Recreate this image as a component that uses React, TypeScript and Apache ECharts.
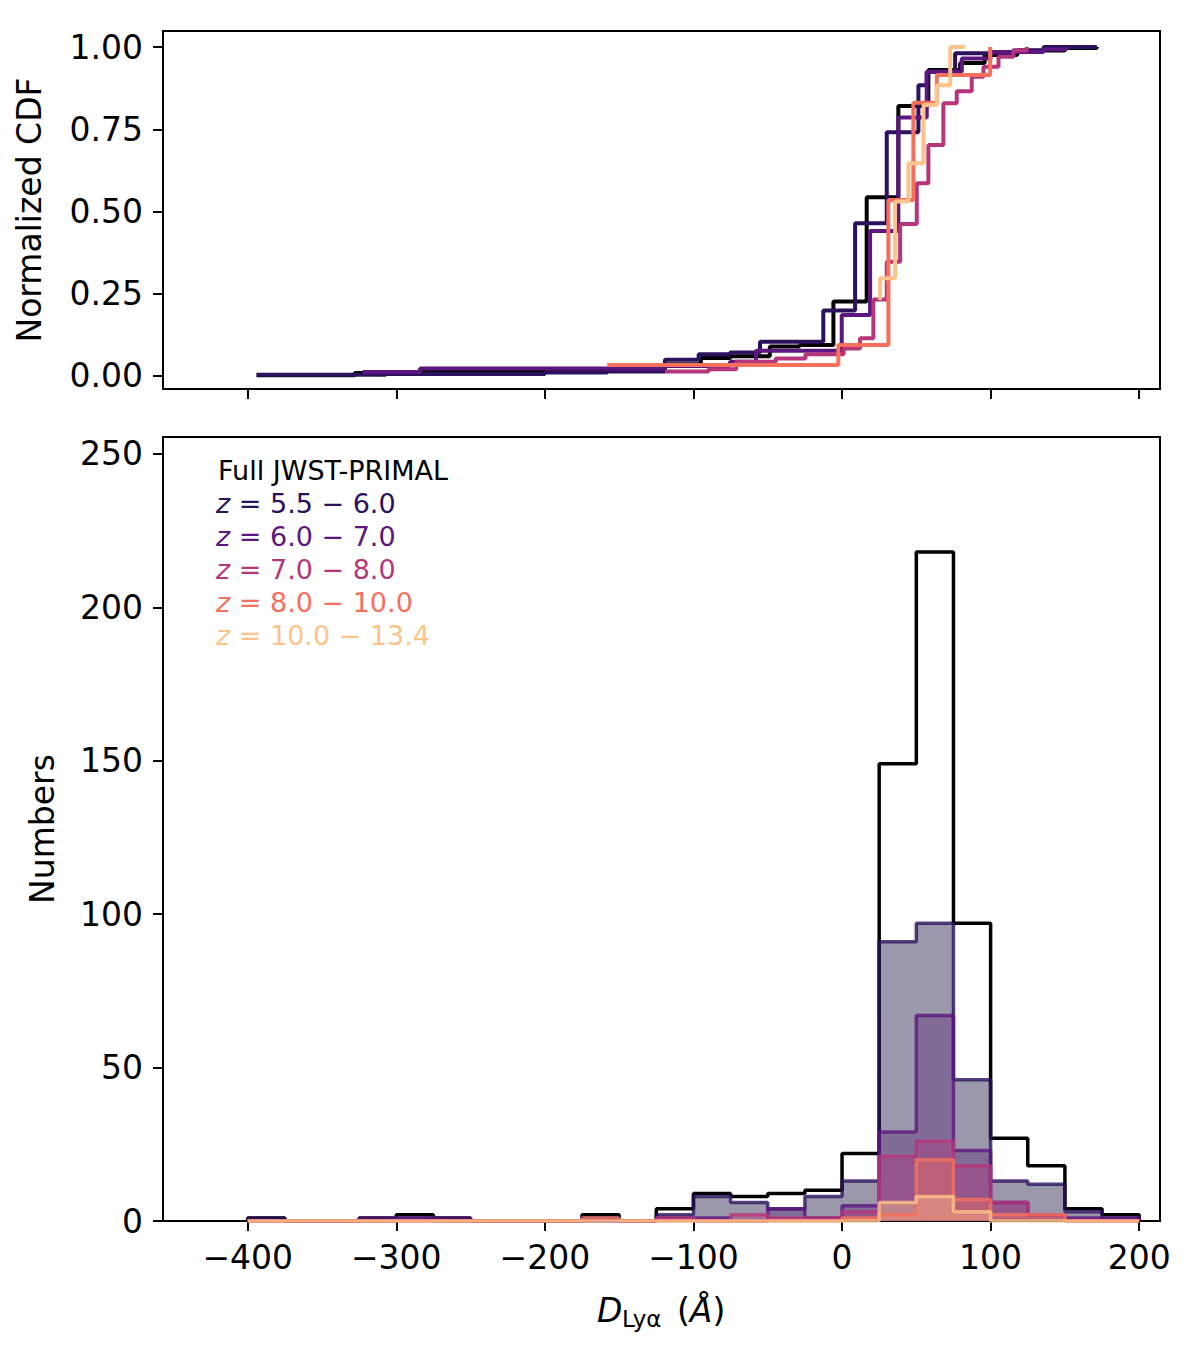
import React, { useEffect, useRef } from "react";
import * as echarts from "echarts";

const FONT = '"DejaVu Sans", sans-serif';

// Histogram bin edges (Å)
const binEdges = [
  -400, -375, -350, -325, -300, -275, -250, -225, -200, -175, -150, -125, -100,
  -75, -50, -25, 0, 25, 50, 75, 100, 125, 150, 175, 200,
];

// Counts per bin
const histFull = [1, 0, 0, 1, 2, 1, 0, 0, 0, 2, 0, 4, 9, 8, 9, 10, 22, 149, 218, 97, 27, 18, 4, 2];
const hist55 = [1, 0, 0, 0, 1, 0, 0, 0, 0, 1, 0, 2, 8, 6, 4, 8, 13, 91, 97, 46, 13, 12, 3, 1];
const hist60 = [0, 0, 0, 1, 1, 1, 0, 0, 0, 0, 0, 1, 1, 0, 4, 1, 5, 29, 67, 23, 6, 2, 1, 1];
const hist70 = [0, 0, 0, 0, 0, 0, 0, 0, 0, 0, 0, 1, 0, 2, 1, 1, 3, 21, 26, 18, 6, 2, 0, 0];
const hist80 = [0, 0, 0, 0, 0, 0, 0, 0, 0, 1, 0, 0, 0, 0, 0, 0, 1, 2, 20, 7, 2, 2, 0, 0];
const hist100 = [0, 0, 0, 0, 0, 0, 0, 0, 0, 0, 0, 0, 0, 0, 0, 0, 0, 6, 8, 3, 0, 0, 0, 0];

// Normalized CDF step points [x, value after the step]
const cdfFull = [
  [-394, 0.002], [-328, 0.009], [-285, 0.014], [-158, 0.02], [-120, 0.035],
  [-95, 0.054], [-75, 0.06], [-48.6, 0.089], [-28.6, 0.094], [-5.8, 0.226],
  [16.6, 0.543], [37.9, 0.821], [58.1, 0.93], [79.5, 0.952], [96, 0.976],
  [118, 0.99], [150, 0.997], [171.5, 1.0],
];
const cdf55 = [
  [-394, 0.003], [-307, 0.006], [-200, 0.01], [-158, 0.013], [-119.2, 0.049],
  [-96.5, 0.066], [-75.4, 0.071], [-55.2, 0.104], [-12.6, 0.199], [8.8, 0.464],
  [30.1, 0.741], [51.4, 0.884], [57.0, 0.925], [76.1, 0.981], [115, 0.99],
  [135.6, 1.0], [171.5, 1.0],
];
const cdf60 = [
  [-322.6, 0.012], [-284, 0.022], [-120, 0.03], [-75.4, 0.043], [-57.9, 0.076],
  [-0.2, 0.185], [18.9, 0.441], [37.9, 0.786], [57.0, 0.925], [80.6, 0.965],
  [100, 0.985], [135.6, 0.993], [151, 1.0],
];
const cdf70 = [
  [-119.2, 0.013], [-89.8, 0.02], [-71.2, 0.043], [-44.6, 0.053], [-24.6, 0.066],
  [1.1, 0.083], [12.1, 0.114], [21.1, 0.232], [30.1, 0.347], [39.1, 0.462],
  [50.3, 0.586], [58.1, 0.702], [68.2, 0.829], [77.2, 0.866], [87.3, 0.91],
  [95.2, 0.94], [105.3, 0.971], [115.4, 0.99], [124.4, 1.0],
];
const cdf80 = [
  [-158, 0.033], [-2.5, 0.094], [31.2, 0.535], [48, 0.831], [63.8, 0.915],
  [99.7, 1.0],
];
const cdf100 = [
  [25.6, 0.231], [25.6, 0.297], [35.7, 0.53], [44.7, 0.647], [54.8, 0.824],
  [63.8, 0.884], [72.8, 1.0], [82.8, 1.0],
];

const xTicks = [-400, -300, -200, -100, 0, 100, 200];
const cdfTicks = [0, 0.25, 0.5, 0.75, 1.0];
const numTicks = [0, 50, 100, 150, 200, 250];

const legendLabels = [
  "Full JWST-PRIMAL",
  "5.5 \u2212 6.0",
  "6.0 \u2212 7.0",
  "7.0 \u2212 8.0",
  "8.0 \u2212 10.0",
  "10.0 \u2212 13.4",
];

const C_FULL = "#000000";
const C55 = "#2c115f";
const C60 = "#5c167f";
const C70 = "#b5367a";
const C80 = "#f7705c";
const C100 = "#fec38a";

// fill tints for the histogram faces
const F55 = "#231a45";
const F60 = "#5a2a7a";

function stepPoints(edges: number[], counts: number[]) {
  const pts: number[][] = [[edges[0], 0]];
  counts.forEach((c, i) => pts.push([edges[i], c]));
  pts.push([edges[edges.length - 1], 0]);
  return pts;
}

const fmtMinus = (v: number) => (v < 0 ? "\u2212" + Math.abs(v) : String(v));

export default function App() {
  const ref = useRef<HTMLDivElement>(null);

  useEffect(() => {
    if (!ref.current) return;
    const chart = echarts.init(ref.current, undefined, { renderer: "svg" });

    const axisLine = { show: true, onZero: false, lineStyle: { color: "#000", width: 2 } };
    const tickStyle = { color: "#000", width: 2 };
    const labelBase = { fontSize: 33, fontFamily: FONT, color: "#000" };

    const histSeries = (data: number[], color: string, fill: string | null, fillOpacity = 0.42) => ({
      type: "line",
      xAxisIndex: 1,
      yAxisIndex: 1,
      data: stepPoints(binEdges, data),
      step: "end",
      showSymbol: false,
      symbol: "none",
      lineStyle: { color, width: 3.5, opacity: fill ? 0.8 : 1 },
      areaStyle: fill ? { color: fill, opacity: fillOpacity } : undefined,
      silent: true,
    });

    const cdfSeries = (data: number[][], color: string) => ({
      type: "line",
      xAxisIndex: 0,
      yAxisIndex: 0,
      data,
      step: "end",
      showSymbol: false,
      symbol: "none",
      lineStyle: { color, width: 4 },
      silent: true,
    });

    const LF = 27; // legend font size
    const legendColors = [C_FULL, C55, C60, C70, C80, C100];
    const legendY = [470, 503, 536, 569, 602, 635];

    const legendGraphics = legendLabels.map((lab, i) => {
      const col = legendColors[i];
      if (i === 0) {
        return {
          type: "text",
          x: 218,
          y: legendY[i],
          style: {
            text: lab,
            fill: col,
            font: `${LF}px ${FONT}`,
            lineHeight: LF,
            verticalAlign: "middle",
            textVerticalAlign: "middle",
          },
        };
      }
      return {
        type: "text",
        x: 216,
        y: legendY[i],
        style: {
          text: `{i|z}{n| = ${lab}}`,
          fill: col,
          font: `${LF}px ${FONT}`,
          lineHeight: LF,
          verticalAlign: "middle",
          textVerticalAlign: "middle",
          rich: {
            i: { fontStyle: "italic", fontSize: LF, fontFamily: FONT, fill: col, color: col, lineHeight: LF },
            n: { fontSize: LF, fontFamily: FONT, fill: col, color: col, lineHeight: LF },
          },
        },
      };
    });

    const option: any = {
      animation: false,
      backgroundColor: "#ffffff",
      grid: [
        { left: 163, top: 31, width: 997, height: 358, show: true, borderColor: "#000", borderWidth: 2, backgroundColor: "transparent" },
        { left: 163, top: 437, width: 997, height: 784, show: true, borderColor: "#000", borderWidth: 2, backgroundColor: "transparent" },
      ],
      xAxis: [
        {
          gridIndex: 0,
          type: "value",
          min: -457,
          max: 214,
          axisLine,
          axisTick: { show: true, inside: false, length: 10, lineStyle: tickStyle, customValues: xTicks },
          axisLabel: { show: false, customValues: xTicks },
          splitLine: { show: false },
        },
        {
          gridIndex: 1,
          type: "value",
          min: -457,
          max: 214,
          axisLine,
          axisTick: { show: true, inside: false, length: 10, lineStyle: tickStyle, customValues: xTicks },
          axisLabel: { ...labelBase, show: true, margin: 20, customValues: xTicks, formatter: fmtMinus },
          splitLine: { show: false },
        },
      ],
      yAxis: [
        {
          gridIndex: 0,
          type: "value",
          min: -0.04,
          max: 1.049,
          name: "Normalized CDF",
          nameLocation: "middle",
          nameGap: 117,
          nameTextStyle: { ...labelBase },
          axisLine,
          axisTick: { show: true, inside: false, length: 10, lineStyle: tickStyle, customValues: cdfTicks },
          axisLabel: { ...labelBase, margin: 20, customValues: cdfTicks, formatter: (v: number) => v.toFixed(2) },
          splitLine: { show: false },
        },
        {
          gridIndex: 1,
          type: "value",
          min: 0,
          max: 255.5,
          name: "Numbers",
          nameLocation: "middle",
          nameGap: 104,
          nameTextStyle: { ...labelBase },
          axisLine,
          axisTick: { show: true, inside: false, length: 10, lineStyle: tickStyle, customValues: numTicks },
          axisLabel: { ...labelBase, margin: 20, customValues: numTicks, formatter: (v: number) => String(v) },
          splitLine: { show: false },
        },
      ],
      series: [
        histSeries(histFull, C_FULL, null),
        histSeries(hist55, C55, F55, 0.45),
        histSeries(hist60, C60, F60, 0.4),
        histSeries(hist70, C70, C70, 0.4),
        histSeries(hist80, C80, C80, 0.4),
        histSeries(hist100, C100, C100, 0.4),
        cdfSeries(cdfFull, C_FULL),
        cdfSeries(cdf55, C55),
        cdfSeries(cdf60, C60),
        cdfSeries(cdf70, C70),
        cdfSeries(cdf80, C80),
        cdfSeries(cdf100, C100),
      ],
      graphic: [
        ...legendGraphics,
        {
          type: "text",
          x: 597,
          y: 1310,
          style: { text: "D", font: `italic 33px ${FONT}`, fill: "#000", verticalAlign: "middle", textVerticalAlign: "middle" },
        },
        {
          type: "text",
          x: 622,
          y: 1319,
          style: { text: "Ly\u03b1", font: `23px ${FONT}`, fill: "#000", verticalAlign: "middle", textVerticalAlign: "middle" },
        },
        {
          type: "text",
          x: 677,
          y: 1310,
          style: {
            text: "{n|(}{i|\u00c5}{n|)}",
            font: `33px ${FONT}`,
            fill: "#000",
            verticalAlign: "middle",
            textVerticalAlign: "middle",
            rich: {
              n: { fontSize: 33, fontFamily: FONT, fill: "#000", color: "#000" },
              i: { fontSize: 33, fontFamily: FONT, fontStyle: "italic", fill: "#000", color: "#000" },
            },
          },
        },
      ],
    };

    chart.setOption(option);
    return () => chart.dispose();
  }, []);

  return (
    <div
      ref={ref}
      style={{ position: "absolute", left: 0, top: 0, width: 1200, height: 1349, background: "#fff" }}
    />
  );
}
